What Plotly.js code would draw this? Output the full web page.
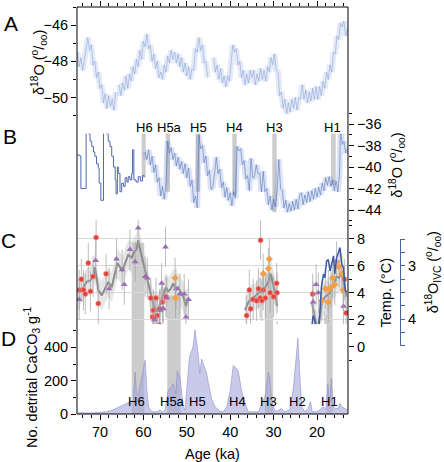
<!DOCTYPE html>
<html><head><meta charset="utf-8">
<script src="https://cdn.plot.ly/plotly-3.0.1.min.js"></script>
<style>html,body{margin:0;padding:0;background:#fff;}#chart{width:444px;height:462px;}</style>
</head><body><div id="chart"></div>
<script>
// ---------- Panel A: delta18O (Antarctic) ----------
const aAge = [75.2,74.8,74.4,74.0,73.6,73.2,72.8,72.4,72.0,71.6,71.2,70.8,70.4,70.0,69.6,69.2,68.8,68.4,68.0,67.6,67.2,66.8,66.4,66.1,65.6,65.2,64.8,64.4,64.0,63.6,63.2,62.8,62.4,62.0,61.6,61.2,60.8,60.4,60.0,59.6,59.2,58.8,58.4,58.0,57.6,57.2,56.8,56.4,56.0,55.6,55.2,54.8,54.4,54.0,53.6,53.2,52.8,52.4,52.0,51.6,51.2,50.8,50.4,50.0,49.6,49.2,48.8,48.4,48.0,47.6,47.2,46.8,46.4,46.0,45.6,45.2,44.9,43.8,43.4,43.0,42.6,42.2,41.8,41.4,41.0,40.6,40.2,39.8,39.4,39.0,38.6,38.2,37.8,37.4,37.0,36.6,36.2,35.8,35.4,35.0,34.6,34.2,33.8,33.4,33.0,32.6,32.2,31.8,31.4,31.0,30.6,30.2,29.8,29.4,29.0,28.6,28.2,27.8,27.4,27.0,26.6,26.2,25.8,25.4,25.0,24.6,24.2,23.8,23.4,23.0,22.6,22.2,21.8,21.4,21.0,20.6,20.2,19.8,19.4,19.0,18.6,18.2,17.8,17.4,17.0,16.6,16.2,15.8,15.4,15.0,14.6,14.2,13.8,13.4,13.0];
const aVal = [-47.5,-48.3,-47.8,-48.5,-47.9,-47.2,-46.7,-47.4,-47.1,-48.2,-48.0,-48.9,-48.6,-49.5,-49.3,-50.3,-49.8,-50.6,-49.9,-50.5,-50.1,-50.7,-49.7,null,-49.3,-49.9,-49.2,-49.6,-48.8,-49.5,-48.7,-49.1,-48.3,-48.7,-47.9,-48.3,-47.4,-47.9,-46.9,-47.2,-46.5,-47.3,-47.1,-48.0,-47.6,-48.4,-48.0,-48.9,-48.6,-49.0,-48.2,-48.6,-47.7,-48.1,-47.4,-47.9,-47.5,-48.1,-47.6,-48.3,-47.8,-48.6,-48.1,-48.8,-48.3,-49.0,-48.4,-48.5,-47.3,-47.5,-46.7,-47.4,-47.1,-48.1,-48.0,-48.9,null,-47.8,-48.6,-48.2,-49.0,-48.4,-49.2,-48.8,-49.4,-48.8,-49.1,-48.1,-47.1,-47.5,-47.3,-48.2,-48.0,-48.9,-48.5,-49.3,-48.7,-49.2,-48.5,-48.9,-48.5,-49.3,-48.7,-49.1,-48.4,-49.0,-48.5,-49.1,-48.3,-48.6,-47.8,-48.2,-47.6,-48.5,-48.6,-49.9,-49.7,-50.6,-50.1,-50.9,-50.3,-50.8,-50.1,-50.6,-50.0,-50.7,-50.0,-50.1,-49.3,-50.1,-49.6,-50.3,-49.7,-50.2,-49.5,-50.1,-49.4,-50.1,-49.4,-49.9,-49.1,-49.5,-48.6,-49.0,-48.2,-48.6,-47.5,-47.6,-46.6,-46.8,-45.9,-46.1,-45.8,-46.6,-46.2];

// ---------- Panel B: delta18O (Greenland) ----------
const bStepAge = [75.2,74.6,74.4,73.5,73.2,72.7,72.3,71.9,71.5,71.2,70.8,70.4,70.2,69.8,69.5,69.2,68.5,68.1,67.7,67.3,66.9,66.5,66.3,66.0,65.8,65.4,65.0,64.6,64.2,63.8,63.5,63.1,62.7,62.5,62.2,61.7,61.2,60.7,60.2,59.8];
const bStepVal = [-38.9,-39.0,-42.0,-42.0,-36.7,-36.9,-37.6,-38.1,-38.6,-39.0,-39.7,-40.1,-41.5,-43.1,-43.1,-36.5,-36.9,-37.6,-38.1,-39.0,-40.0,-41.2,-42.5,-40.0,-40.6,-42.3,-41.5,-41.8,-41.0,-41.4,-40.9,-41.2,-40.6,-38.4,-41.2,-41.4,-40.9,-41.3,-40.8,-40.9];
const bAge = [59.6,59.2,58.8,58.4,58.0,57.6,57.2,56.8,56.4,56.0,55.6,55.2,54.8,54.4,54.0,53.6,53.2,52.8,52.4,52.0,51.6,51.2,50.8,50.4,50.0,49.6,49.2,48.8,48.4,48.0,47.6,47.2,46.8,46.4,46.0,45.6,45.2,44.8,44.4,44.0,43.6,43.2,42.8,42.4,42.0,41.6,41.2,40.8,40.4,40.0,39.6,39.2,38.8,38.4,38.0,37.6,37.2,36.8,36.4,36.0,35.6,35.2,34.8,34.4,34.0,33.6,33.2,32.8,32.4,32.0,31.6,31.2,30.8,30.4,30.0,29.6,29.2,28.8,28.4,28.0,27.6,27.2,26.8,26.4,26.0,25.6,25.2,24.8,24.4,24.0,23.6,23.2,22.8,22.4,22.0,21.6,21.2,20.8,20.4,20.0,19.6,19.2,18.8,18.4,18.0,17.6,17.2,16.8,16.4,16.0,15.6,15.2,14.8,14.6,14.2,13.8,13.4,13.0];
const bVal = [-38.6,-39.3,-38.4,-39.8,-39.0,-40.5,-39.8,-41.4,-41.0,-42.7,-41.8,-43.0,-41.5,-37.6,-38.7,-38.2,-39.3,-38.7,-39.9,-39.1,-40.2,-39.5,-40.6,-39.7,-41.0,-40.1,-41.8,-41.2,-43.3,-42.7,-43.8,-37.0,-38.3,-38.0,-39.6,-39.0,-40.8,-40.3,-42.1,-41.8,-40.6,-39.1,-40.6,-40.2,-41.9,-41.4,-42.8,-41.9,-43.1,-42.4,-43.6,-42.3,-42.9,-38.1,-38.5,-38.3,-39.8,-39.4,-41.1,-40.8,-42.2,-39.2,-41.0,-40.9,-39.8,-40.6,-40.6,-42.3,-40.4,-42.3,-42.0,-43.5,-42.7,-44.0,-43.0,-43.7,-42.2,-39.3,-42.0,-42.2,-43.8,-43.1,-44.2,-43.4,-44.1,-43.2,-44.0,-43.0,-43.9,-42.6,-42.4,-43.5,-42.6,-43.3,-42.3,-43.2,-42.2,-43.0,-42.0,-42.8,-41.9,-42.6,-41.5,-42.2,-41.0,-41.7,-40.9,-41.8,-41.2,-42.2,-41.3,-42.3,-40.5,-36.5,-37.9,-37.6,-38.7,-38.3];

// ---------- Panel C: temperature reconstruction ----------
const redAge = [74.8,74.3,73.8,73.4,72.7,72.2,71.6,70.9,70.4,68.6,58.3,57.9,57.7,57.3,57.1,56.8,56.3,56.2,55.6,54.8,36.2,35.6,35.3,34.7,33.9,33.5,33.1,33.0,32.7,32.4,31.9,30.8,30.0,29.3,29.2,21.0,20.5,13.7,13.3];
const redT = [4.2,5.0,4.2,3.9,6.2,4.1,5.2,8.1,3.2,5.4,3.6,2.2,2.7,2.2,3.6,2.3,1.6,2.8,3.3,3.7,2.3,4.2,2.8,3.5,3.4,4.3,3.6,7.9,3.4,4.2,3.6,4.0,3.7,4.7,4.0,3.9,1.2,5.0,2.5];
const purpleAge = [74.8,71.0,67.9,66.2,64.9,64.4,63.1,61.9,61.2,59.6,59.1,57.5,56.9,56.2,55.8,55.4,54.9,54.6,52.5,51.6,50.6,50.2,49.6,29.2,20.9,20.2,19.7,20.1,18.2,13.9];
const purpleT = [3.5,6.4,4.3,6.5,5.7,4.6,7.2,6.3,8.8,5.2,5.1,2.0,0.9,2.7,4.7,2.8,7.4,3.6,4.3,3.9,3.9,2.2,3.5,0.4,3.3,4.6,4.0,-0.2,1.1,3.0];
const orangeAge = [52.7,52.6,32.4,31.2,31.0,18.9,18.1,17.9,17.4,17.4,16.8,16.4,15.9,15.5,14.9,14.3,14.0];
const orangeT = [5.1,3.6,5.4,5.8,6.5,3.4,4.3,0.9,4.2,3.3,4.4,5.1,4.6,6.3,5.9,5.4,4.2];
const tempErr = 1.5;
const smoothAge = [74.8,74.0,73.1,72.3,71.5,71.2,70.8,70.4,69.6,68.8,68.1,67.3,66.5,66.0,65.4,64.8,64.2,63.5,62.7,62.2,61.6,61.2,60.6,60.0,59.4,58.9,58.3,57.7,57.0,56.3,55.8,55.3,54.8,54.3,53.7,53.1,52.5,52.0,51.4,50.8,50.2,49.7,null,36.6,35.8,35.0,34.3,33.5,32.7,32.0,31.2,30.7,30.2,29.7,29.2,null,21.2,20.5,19.9,19.5,18.9,18.4,17.8,17.0,16.2,15.5,14.9,14.3,13.8,13.2];
const smoothT = [4.1,4.3,4.8,4.9,5.2,5.9,5.2,4.2,3.8,4.3,4.8,4.4,5.4,6.2,5.9,5.6,6.2,6.8,6.6,7.0,7.2,7.9,7.0,6.2,5.3,4.6,3.7,3.1,2.7,3.0,3.5,3.9,4.4,4.1,4.3,4.7,4.2,4.4,4.1,3.7,3.0,3.5,null,2.7,3.3,3.6,3.7,4.0,4.1,4.4,4.8,5.4,4.8,4.1,3.0,null,3.3,2.0,1.2,2.0,3.2,3.6,3.8,4.0,4.6,5.2,5.1,5.6,4.7,3.7];
const smoothUpper = [5.0,5.3,5.8,5.9,6.3,7.0,6.3,5.2,4.9,5.3,5.9,5.5,6.5,7.3,7.0,6.7,7.3,7.9,7.8,8.1,8.4,9.0,8.1,7.3,6.4,5.7,4.8,4.2,3.8,4.1,4.6,5.0,5.5,5.2,5.4,5.8,5.3,5.5,5.2,4.8,4.1,4.5,null,3.8,4.4,4.6,4.7,5.1,5.2,5.5,5.9,6.6,5.9,5.2,4.1,null,4.5,3.2,2.4,3.2,4.4,4.8,5.0,5.2,5.8,6.4,6.3,6.8,5.9,4.9];
const smoothLower = [3.1,3.3,3.8,3.8,4.1,4.8,4.1,3.1,2.7,3.2,3.7,3.3,4.3,5.1,4.8,4.5,5.1,5.7,5.4,5.9,6.0,6.8,5.9,5.1,4.2,3.5,2.6,2.0,1.6,1.9,2.4,2.8,3.3,3.0,3.2,3.6,3.1,3.3,3.0,2.6,1.9,2.5,null,1.6,2.2,2.6,2.7,2.9,3.0,3.3,3.7,4.2,3.7,3.0,1.9,null,2.1,0.8,0.0,0.8,2.0,2.4,2.6,2.8,3.4,4.0,3.9,4.4,3.5,2.5];
const modernT = 3.4;
const ivcAge = [23.0,22.0,21.2,20.9,20.5,20.1,19.7,19.4,19.0,18.5,18.2,17.8,17.4,17.0,16.6,16.2,15.9,15.5,15.1,14.7,14.3,13.9,13.5,13.1];
const ivcVal = [4.33,4.30,4.14,3.93,4.02,4.51,4.39,3.96,3.40,3.15,3.22,2.91,2.88,3.09,2.91,2.81,3.15,2.85,2.75,2.66,2.97,3.03,3.46,3.49];

// ---------- Panel D: detrital carbonate ----------
const dAge = [75.2,74.6,72.0,70.0,68.5,67.0,66.2,65.0,63.8,62.8,62.3,61.9,61.6,61.2,60.8,60.2,59.6,59.2,58.8,58.1,56.9,56.2,55.6,55.0,54.3,53.5,53.1,52.5,52.2,51.6,51.2,50.8,50.4,50.0,49.4,48.6,48.1,47.3,47.0,46.6,45.8,45.4,45.0,44.3,43.5,42.4,41.6,40.8,40.0,39.3,38.5,38.1,37.4,36.6,35.8,34.7,33.5,32.7,32.0,31.2,30.9,30.5,29.7,29.0,28.2,27.5,26.3,25.5,24.8,24.4,23.9,23.5,22.8,22.0,21.5,21.1,20.5,19.7,19.0,18.5,18.0,17.5,17.1,16.7,16.3,15.9,15.1,14.7,14.3,13.6,13.0];
const dCount = [5,8,6,8,14,25,34,48,64,78,90,252,123,113,163,242,325,143,44,14,14,24,12,24,143,163,183,123,258,222,143,44,24,163,341,400,505,341,242,331,262,242,183,93,44,18,14,44,143,292,272,252,143,64,14,14,14,64,103,252,222,93,18,20,34,14,24,143,321,455,203,44,14,34,74,14,14,18,34,44,24,183,64,212,54,34,34,64,44,34,24];

// ---------- Heinrich events ----------
const hAB = ['H6','H5a','H5','H4','H3','H1'];
const hABStart = [60.39,54.86,47.95,39.52,30.30,16.77];
const hABEnd = [59.47,53.87,46.96,38.50,29.29,15.69];
const hABTopA = [-47.8,-48.4,-47.3,-47.8,-48.0,-48.8];
const hABBotB = [-41.0,-42.3,-42.3,-42.6,-44.2,-41.7];
const hABLabelAge = [59.8,53.9,47.2,39.1,29.8,16.5];
const hCDStart = [62.7,54.5,32.0,17.8];
const hCDEnd = [59.8,51.4,30.1,16.4];
const hCDTopT = [7.7,3.8,5.4,4.3];
const hD = ['H6','H5a','H5','H4','H3','H2','H1'];
const hDLabelAge = [61.5,53.4,47.6,38.4,31.1,24.6,17.2];

// ---------- layout geometry ----------
const FONT = 'Liberation Sans, Arial, Helvetica, sans-serif';
const XDOM = [0, 0.7591];
const XR = [75.3, 12.86];
const RA = [-52, -45], RB = [-46, -34.5], RT = [-1.2, 9.4], RI = [4.5, 2.5], RD = [0, 540];
const BAR = '#cccccc';

const traces = [];
// A
traces.push({x:aAge, y:aVal, xaxis:'x2', yaxis:'y', mode:'lines', connectgaps:false,
  line:{color:'rgba(130,160,218,0.22)', width:6}, hoverinfo:'skip'});
traces.push({x:aAge, y:aVal, xaxis:'x2', yaxis:'y', mode:'lines', connectgaps:false,
  line:{color:'rgba(95,128,200,0.55)', width:0.7}, hoverinfo:'skip'});
// B
traces.push({x:bStepAge, y:bStepVal, xaxis:'x', yaxis:'y2', mode:'lines',
  line:{color:'#4f68ad', width:1, shape:'hv'}, hoverinfo:'skip'});
traces.push({x:bAge, y:bVal, xaxis:'x', yaxis:'y2', mode:'lines',
  line:{color:'rgba(110,140,210,0.24)', width:6}, hoverinfo:'skip'});
traces.push({x:bAge, y:bVal, xaxis:'x', yaxis:'y2', mode:'lines',
  line:{color:'rgba(60,95,180,0.7)', width:0.7}, hoverinfo:'skip'});
// C: uncertainty envelope, one closed polygon per run of values
let runStart = 0;
for (let i = 0; i <= smoothAge.length; i++) {
  if (i === smoothAge.length || smoothAge[i] === null) {
    const ag = smoothAge.slice(runStart, i), up = smoothUpper.slice(runStart, i), lo = smoothLower.slice(runStart, i);
    traces.push({x:ag.concat(ag.slice().reverse()), y:up.concat(lo.slice().reverse()), xaxis:'x', yaxis:'y3',
      mode:'lines', fill:'toself', fillcolor:'rgba(200,200,200,0.45)', line:{width:0}, hoverinfo:'skip'});
    runStart = i + 1;
  }
}
const errStyle = {type:'constant', value:tempErr, color:'rgba(165,165,165,0.75)', thickness:1, width:0};
traces.push({x:smoothAge, y:smoothT, xaxis:'x', yaxis:'y3', mode:'lines', connectgaps:false,
  line:{color:'#8c8c8c', width:2}, hoverinfo:'skip'});
traces.push({x:redAge, y:redT, xaxis:'x', yaxis:'y3', mode:'markers', error_y:errStyle,
  marker:{symbol:'circle', size:5, color:'#e0413b', line:{color:'#f2958c', width:0.6}}});
traces.push({x:purpleAge, y:purpleT, xaxis:'x', yaxis:'y3', mode:'markers', error_y:errStyle,
  marker:{symbol:'triangle-up', size:6, color:'#9a70b2', line:{width:0}}});
traces.push({x:orangeAge, y:orangeT, xaxis:'x', yaxis:'y3', mode:'markers', error_y:errStyle,
  marker:{symbol:'diamond', size:5.5, color:'#f0a048', line:{width:0}}});
traces.push({x:ivcAge, y:ivcVal, xaxis:'x', yaxis:'y4', mode:'lines',
  line:{color:'#3d5aa8', width:1.5}, hoverinfo:'skip'});
// D
traces.push({x:dAge, y:dCount, xaxis:'x', yaxis:'y5', mode:'lines', fill:'tozeroy',
  fillcolor:'rgba(165,165,218,0.6)', line:{color:'rgba(135,135,198,0.9)', width:0.6}, hoverinfo:'skip'});

const shapes = [];
shapes.push({type:'line', xref:'x domain', x0:0.012, x1:1, yref:'y3', y0:modernT, y1:modernT,
  line:{color:'#e8392e', width:1.5}, layer:'below'});
for (let i = 0; i < hAB.length; i++) {
  shapes.push({type:'rect', xref:'x', yref:'y', x0:hABStart[i], x1:hABEnd[i], y0:RA[0], y1:hABTopA[i],
    fillcolor:BAR, line:{width:0}, layer:'below'});
  shapes.push({type:'rect', xref:'x', yref:'y2', x0:hABStart[i], x1:hABEnd[i], y0:hABBotB[i], y1:RB[1],
    fillcolor:BAR, line:{width:0}, layer:'below'});
}
for (let i = 0; i < hCDStart.length; i++) {
  shapes.push({type:'rect', xref:'x', yref:'y3', x0:hCDStart[i], x1:hCDEnd[i], y0:RT[0], y1:hCDTopT[i],
    fillcolor:BAR, line:{width:0}, layer:'below'});
  shapes.push({type:'rect', xref:'x', yref:'y5', x0:hCDStart[i], x1:hCDEnd[i], y0:RD[0], y1:RD[1],
    fillcolor:BAR, line:{width:0}, layer:'below'});
}
shapes.push({type:'rect', xref:'paper', yref:'paper', x0:XDOM[0], x1:XDOM[1], y0:0, y1:1,
  line:{color:'#000', width:1}, fillcolor:'rgba(0,0,0,0)', layer:'above'});

const annotations = [];
const ann = (text, x, y, opts) => Object.assign({text, x, y, xref:'paper', yref:'paper', showarrow:false,
  xanchor:'center', yanchor:'middle', font:{family:FONT, size:14.5, color:'#000'}}, opts || {});
annotations.push(ann('A', -0.1849, 0.9595, {font:{family:FONT, size:21, color:'#000'}}));
annotations.push(ann('B', -0.189, 0.6818, {font:{family:FONT, size:21, color:'#000'}}));
annotations.push(ann('C', -0.1919, 0.4263, {font:{family:FONT, size:21, color:'#000'}}));
annotations.push(ann('D', -0.1919, 0.1855, {font:{family:FONT, size:21, color:'#000'}}));
annotations.push(ann('δ<sup>18</sup>O (<sup>o</sup>/<sub>oo</sub>)', -0.108, 0.8636, {textangle:-90}));
annotations.push(ann('δ<sup>18</sup>O (<sup>o</sup>/<sub>oo</sub>)', 0.8955, 0.6118, {textangle:-90}));
annotations.push(ann('Temp. (°C)', 0.8669, 0.2973, {textangle:-90}));
annotations.push(ann('δ<sup>18</sup>O<sub>IVC</sub> (<sup>o</sup>/<sub>oo</sub>)', 0.998, 0.3489, {textangle:-90}));
annotations.push(ann('No. detrital CaCO<sub>3</sub> g<sup>-1</sup>', -0.1275, 0.0921, {textangle:-90}));
for (let i = 0; i < hAB.length; i++) {
  annotations.push({text:hAB[i], x:hABLabelAge[i], xref:'x', y:0.7034, yref:'paper', showarrow:false,
    xanchor:'center', yanchor:'middle', font:{family:FONT, size:13, color:'#000'}});
}
for (let i = 0; i < hD.length; i++) {
  annotations.push({text:hD[i], x:hDLabelAge[i], xref:'x', y:0.0295, yref:'paper', showarrow:false,
    xanchor:'center', yanchor:'middle', font:{family:FONT, size:13, color:'#000'}});
}

const yBase = {ticks:'outside', ticklen:5, tickcolor:'#000', tickwidth:1, showgrid:false, zeroline:false,
  showline:false, tickfont:{family:FONT, size:14.5, color:'#000'}, fixedrange:true};
const minorT = (vals) => ({tickmode:'array', tickvals:vals, ticks:'outside', ticklen:3, tickcolor:'#000', tickwidth:1});

const layout = {
  width:444, height:462, margin:{l:77, r:10, t:7, b:48},
  paper_bgcolor:'#fff', plot_bgcolor:'#fff', showlegend:false,
  font:{family:FONT, size:14.5, color:'#000'},
  xaxis:{domain:XDOM, range:XR, anchor:'y5', tickmode:'linear', tick0:0, dtick:10, ticks:'outside', ticklen:5,
    tickcolor:'#000', showgrid:false, zeroline:false, showline:false,
    minor:{tick0:0, dtick:2, ticks:'outside', ticklen:3, tickcolor:'#000'},
    tickfont:{family:FONT, size:14.5, color:'#000'},
    title:{text:'Age (ka)', standoff:9, font:{family:FONT, size:14.5, color:'#000'}}},
  xaxis2:{overlaying:'x', range:XR, side:'top', anchor:'y', tickmode:'linear', tick0:0, dtick:10,
    ticks:'outside', ticklen:5, tickcolor:'#000', showticklabels:false, showgrid:false, zeroline:false, showline:false,
    minor:{tick0:0, dtick:2, ticks:'outside', ticklen:3, tickcolor:'#000'}},
  yaxis:Object.assign({}, yBase, {domain:[0.6889, 1], range:RA, anchor:'x', side:'left',
    tickmode:'array', tickvals:[-46,-48,-50], minor:minorT([-45,-47,-49,-51])}),
  yaxis2:Object.assign({}, yBase, {domain:[0.4484, 0.7521], range:RB, anchor:'x', side:'right',
    tickmode:'array', tickvals:[-36,-38,-40,-42,-44], minor:minorT([-35,-37,-39,-41,-43,-45])}),
  yaxis3:Object.assign({}, yBase, {domain:[0.1260, 0.4767], range:RT, anchor:'x', side:'right',
    tickmode:'array', tickvals:[0,2,4,6,8], minor:minorT([-1,1,3,5,7,9]),
    showgrid:true, gridcolor:'#d9d9d9', gridwidth:1}),
  yaxis4:Object.assign({}, yBase, {domain:[0.1671, 0.4292], range:RI, anchor:'free', position:0.9048, side:'right',
    showline:true, linecolor:'#4a62a8', linewidth:1.2, tickcolor:'#4a62a8', ticklen:4,
    tickmode:'array', tickvals:[3,4],
    minor:{tickmode:'array', tickvals:[2.5,2.75,3.25,3.5,3.75,4.25,4.5], ticks:'outside', ticklen:4, tickcolor:'#4a62a8'}}),
  yaxis5:Object.assign({}, yBase, {domain:[0, 0.2209], range:RD, anchor:'x', side:'left',
    tickmode:'array', tickvals:[0,200,400], minor:minorT([100,300,500])}),
  shapes, annotations
};

Plotly.newPlot('chart', traces, layout, {staticPlot:true, displayModeBar:false});
</script></body></html>
